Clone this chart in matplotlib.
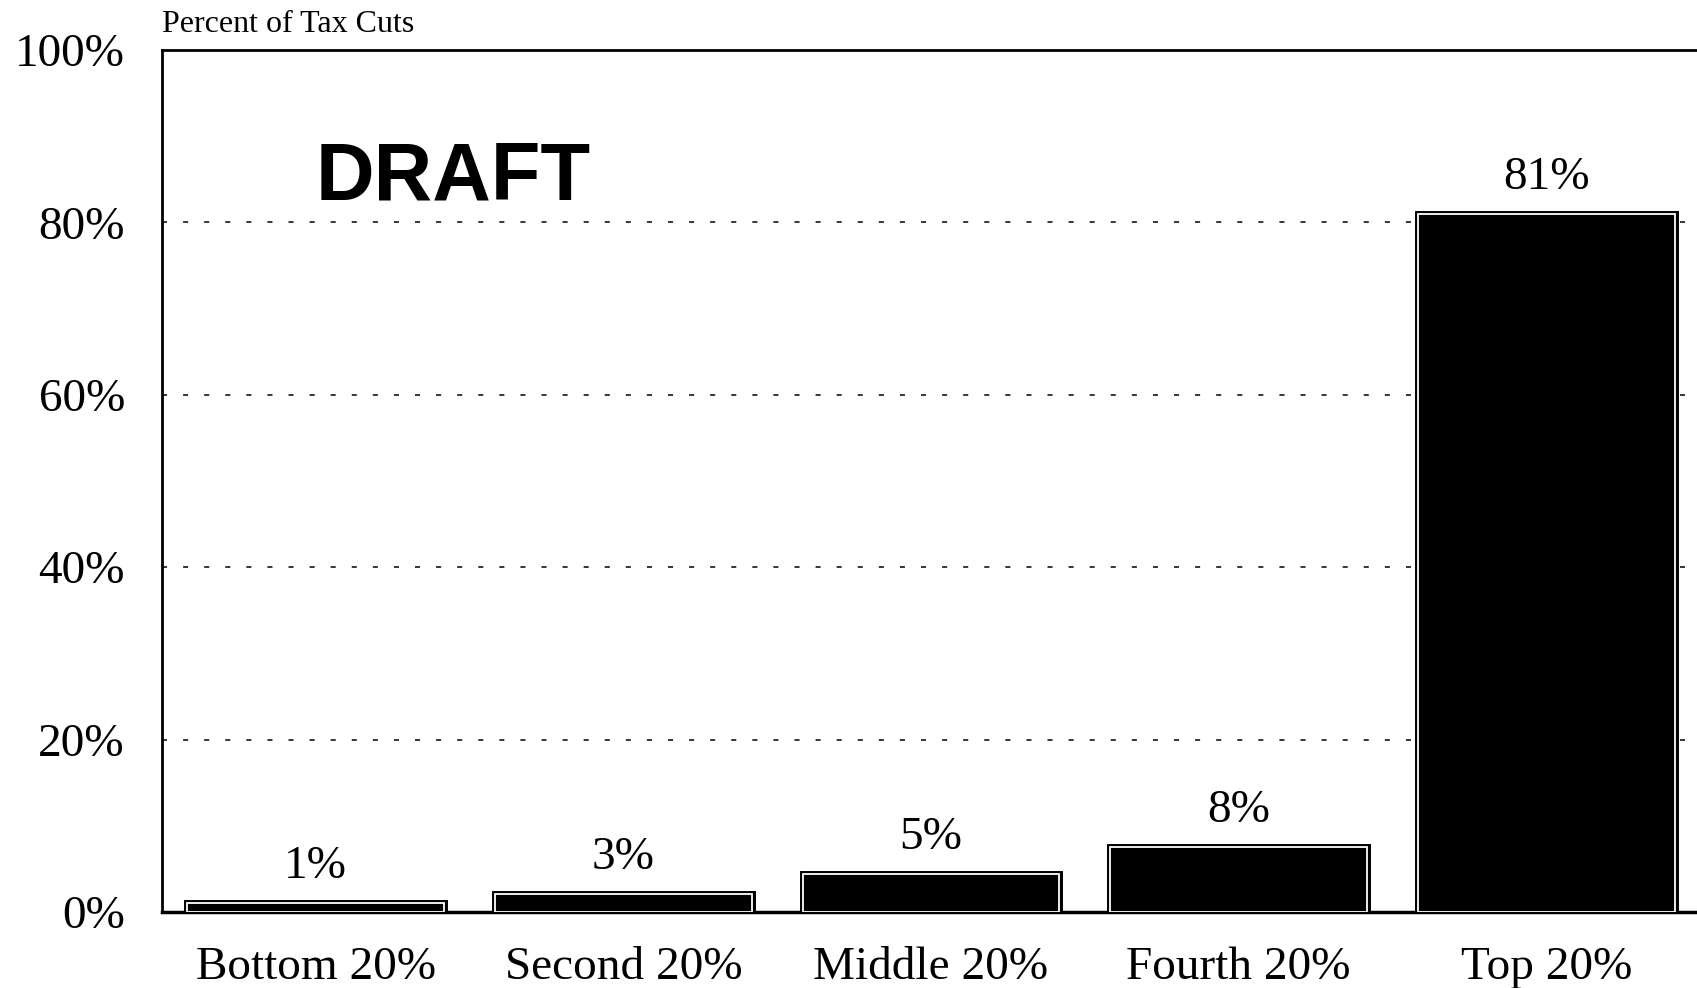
import matplotlib
matplotlib.use("Agg")
import matplotlib.pyplot as plt
import numpy as np

# data
groups = ["Bottom 20%", "Second 20%", "Middle 20%", "Fourth 20%", "Top 20%"]
shares = [1.0, 2.1, 4.4, 7.5, 81.0]
share_labels = ["1%", "3%", "5%", "8%", "81%"]
yticks = [0, 20, 40, 60, 80, 100]

serif = "Liberation Serif"

fig = plt.figure(figsize=(16.97, 9.88), dpi=100)
ax = fig.add_axes([162 / 1697, 1 - 912 / 988, 1 - 162 / 1697, (912 - 50) / 988])

x = np.arange(len(groups))
# black outline then a thin white line inside it
ax.bar(x, shares, width=0.835, color="black", edgecolor="black", linewidth=5, zorder=3)
ax.bar(x, shares, width=0.835, color="black", edgecolor="white", linewidth=1.3, zorder=4)

for xi, v, lab in zip(x, shares, share_labels):
    ax.annotate(lab, (xi, v), xytext=(0, 18), textcoords="offset points",
                ha="center", va="baseline", fontsize=34, family=serif)

ax.set_xlim(-0.5, 4.49)
ax.set_ylim(0, 100)
ax.set_yticks(yticks)
ax.set_yticklabels([f"{t}%" for t in yticks], family=serif, fontsize=34)
ax.set_xticks(x)
ax.set_xticklabels(groups, family=serif, fontsize=34)
ax.tick_params(axis="y", length=0, pad=26.7)
ax.tick_params(axis="x", length=0, pad=25)

for t in yticks[1:-1]:
    ax.axhline(t, color="black", linewidth=1.1, linestyle=(0, (3.3, 10.5)), zorder=1)

ax.spines["right"].set_visible(False)
ax.spines["left"].set_linewidth(2)
ax.spines["top"].set_linewidth(2)
ax.spines["bottom"].set_linewidth(2.5)

fig.text(162 / 1697, 1 - 32 / 988, "Percent of Tax Cuts", family=serif, fontsize=23,
         ha="left", va="baseline")
fig.text(316 / 1697, 1 - 200 / 988, "DRAFT", family="Liberation Sans", fontweight="bold",
         fontsize=58.5, ha="left", va="baseline")

fig.savefig("out.png", dpi=100)
